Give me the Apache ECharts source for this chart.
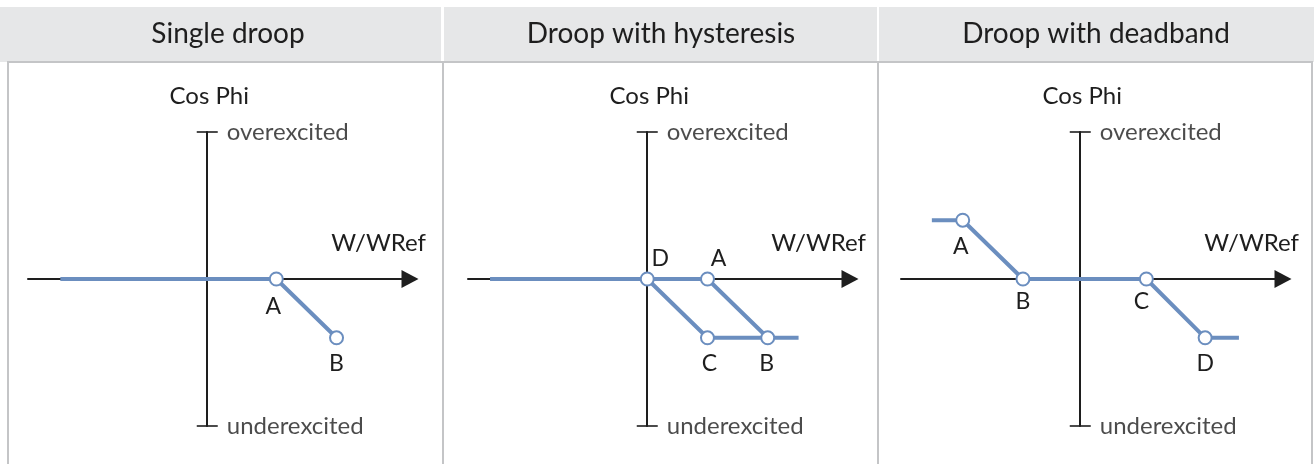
<!DOCTYPE html>
<html>
<head>
<meta charset="utf-8">
<script src="https://cdn.jsdelivr.net/npm/echarts@6/dist/echarts.min.js"></script>
<style>
  html, body { margin: 0; padding: 0; background: #fff; }
  #chart { width: 1314px; height: 464px; }
</style>
</head>
<body>
<div id="chart"></div>
<script>
// panel headings
const panelTitles = ['Single droop', 'Droop with hysteresis', 'Droop with deadband'];

// axis texts, same in every panel
const yAxisName = 'Cos Phi';
const xAxisName = 'W/WRef';
const yTopLabel = 'overexcited';
const yBottomLabel = 'underexcited';

// axis extents (W/WRef horizontal, Cos Phi vertical)
const xRange = [-1.22, 1.38];
const yRange = [-1, 1];

// single droop curve
const singleX = [-1.0, 0.47, 0.88];
const singleY = [0, 0, -0.4];
const singleNames = ['', 'A', 'B'];

// hysteresis: upper branch and lower branch
const hystUpperX = [-1.07, 0, 0.41, 0.82, 1.03];
const hystUpperY = [0, 0, 0, -0.4, -0.4];
const hystUpperNames = ['', 'D', 'A', 'B', ''];
const hystLowerX = [0, 0.41, 0.82];
const hystLowerY = [0, -0.4, -0.4];
const hystLowerNames = ['', 'C', ''];

// deadband curve
const deadX = [-1.01, -0.80, -0.39, 0.45, 0.85, 1.08];
const deadY = [0.4, 0.4, 0, 0, -0.4, -0.4];
const deadNames = ['', 'A', 'B', 'C', 'D', ''];

const BLUE = '#6b8ebf';
const INK = '#1e1e1e';
const FONT = 'Lato';
const WEIGHT = 'normal';

// where each point letter sits relative to its marker
const labelPlacement = {
    '0A': {position: 'bottom', distance: 9, offset: [-3, 0]},
    '0B': {position: 'bottom', distance: 7, offset: [0, 0]},
    '1D': {position: 'top', distance: 1, offset: [13, 0]},
    '1A': {position: 'top', distance: 1, offset: [11, 0]},
    '1C': {position: 'bottom', distance: 7, offset: [2, 0]},
    '1B': {position: 'bottom', distance: 7, offset: [-1, 0]},
    '2A': {position: 'bottom', distance: 7, offset: [-2, 0]},
    '2B': {position: 'bottom', distance: 4, offset: [0, 0]},
    '2C': {position: 'bottom', distance: 4, offset: [-5, 0]},
    '2D': {position: 'bottom', distance: 7, offset: [0, 0]}
};

const gridLefts = [28, 468, 901];
const cells = [[0, 441], [444, 877], [879, 1314]];
const titleCenters = [228, 661, 1096];

/**
 * 把x/y/名称数组拼成折线数据，带名字的点显示空心圆和字母
 */
const buildPoints = (panel, xs, ys, names) => xs.map((x, i) => {
    const name = names[i];
    if (!name) {
        return {value: [x, ys[i]], symbol: 'none'};
    }
    const place = labelPlacement[panel + name];
    return {
        value: [x, ys[i]],
        name: name,
        symbol: 'circle',
        label: {
            show: true,
            formatter: name,
            position: place.position,
            distance: place.distance,
            offset: place.offset,
            color: INK,
            fontFamily: FONT,
            fontWeight: WEIGHT,
            fontSize: 23
        }
    };
});

const curveSeries = (panel, data, z) => ({
    type: 'line',
    xAxisIndex: panel,
    yAxisIndex: panel,
    data: data,
    z: z,
    symbolSize: 13,
    lineStyle: {color: BLUE, width: 4},
    itemStyle: {color: '#fff', borderColor: BLUE, borderWidth: 2},
    emphasis: {disabled: true},
    silent: true,
    animation: false
});

// end caps of the vertical axis, with the over/under text beside them
const capSeries = (panel) => ({
    type: 'scatter',
    xAxisIndex: panel,
    yAxisIndex: panel,
    symbol: 'rect',
    symbolSize: [21, 2],
    itemStyle: {color: INK},
    silent: true,
    animation: false,
    data: [
        {value: [0, yRange[1]], label: {show: true, formatter: yTopLabel}},
        {value: [0, yRange[0]], label: {show: true, formatter: yBottomLabel}}
    ],
    label: {position: 'right', distance: 9, color: INK, fontFamily: FONT, fontWeight: WEIGHT, fontSize: 24}
});

const grids = gridLefts.map(left => ({left: left, top: 132, width: 382, height: 294, outerBoundsMode: 'none'}));

const xAxes = gridLefts.map((_, i) => ({
    type: 'value',
    gridIndex: i,
    min: xRange[0],
    max: xRange[1],
    name: xAxisName,
    nameLocation: 'end',
    nameGap: 16,
    nameTextStyle: {
        color: INK, fontFamily: FONT, fontWeight: WEIGHT, fontSize: 24,
        align: 'right', verticalAlign: 'bottom', padding: [0, 0, 24, 0]
    },
    axisLine: {
        onZero: true,
        lineStyle: {color: INK, width: 2},
        symbol: ['none', 'triangle'],
        symbolSize: [18, 17]
    },
    axisTick: {show: false},
    axisLabel: {show: false},
    splitLine: {show: false}
}));

const yAxes = gridLefts.map((_, i) => ({
    type: 'value',
    gridIndex: i,
    min: yRange[0],
    max: yRange[1],
    name: yAxisName,
    nameLocation: 'end',
    nameGap: 24,
    nameTextStyle: {color: INK, fontFamily: FONT, fontWeight: WEIGHT, fontSize: 24, padding: [0, 0, 0, 4]},
    axisLine: {onZero: true, lineStyle: {color: INK, width: 2}},
    axisTick: {show: false},
    axisLabel: {show: false},
    splitLine: {show: false}
}));

// header band and cell frame
const frame = [];
cells.forEach((c, i) => {
    frame.push({
        type: 'rect', silent: true,
        shape: {x: c[0], y: 7, width: c[1] - c[0], height: 55},
        style: {fill: '#e6e7e8'}
    });
    frame.push({
        type: 'text', silent: true,
        x: titleCenters[i], y: 34,
        style: {
            text: panelTitles[i], fill: INK, font: WEIGHT + ' 28px ' + FONT,
            align: 'center', verticalAlign: 'middle'
        }
    });
});
frame.push({
    type: 'rect', silent: true,
    shape: {x: 7, y: 61, width: 1306, height: 2},
    style: {fill: '#c4c5c7'}
});
[7, 442, 877, 1311].forEach(x => frame.push({
    type: 'rect', silent: true,
    shape: {x: x, y: 61, width: 2, height: 403},
    style: {fill: '#c4c5c7'}
}));

const series = [
    curveSeries(0, buildPoints(0, singleX, singleY, singleNames), 3),
    curveSeries(1, buildPoints(1, hystLowerX, hystLowerY, hystLowerNames), 2),
    curveSeries(1, buildPoints(1, hystUpperX, hystUpperY, hystUpperNames), 3),
    curveSeries(2, buildPoints(2, deadX, deadY, deadNames), 3),
    capSeries(0), capSeries(1), capSeries(2)
];

const chart = echarts.init(document.getElementById('chart'), null, {renderer: 'canvas'});
chart.setOption({
    animation: false,
    backgroundColor: '#fff',
    textStyle: {fontFamily: FONT},
    graphic: frame,
    grid: grids,
    xAxis: xAxes,
    yAxis: yAxes,
    series: series
});
</script>
</body>
</html>
